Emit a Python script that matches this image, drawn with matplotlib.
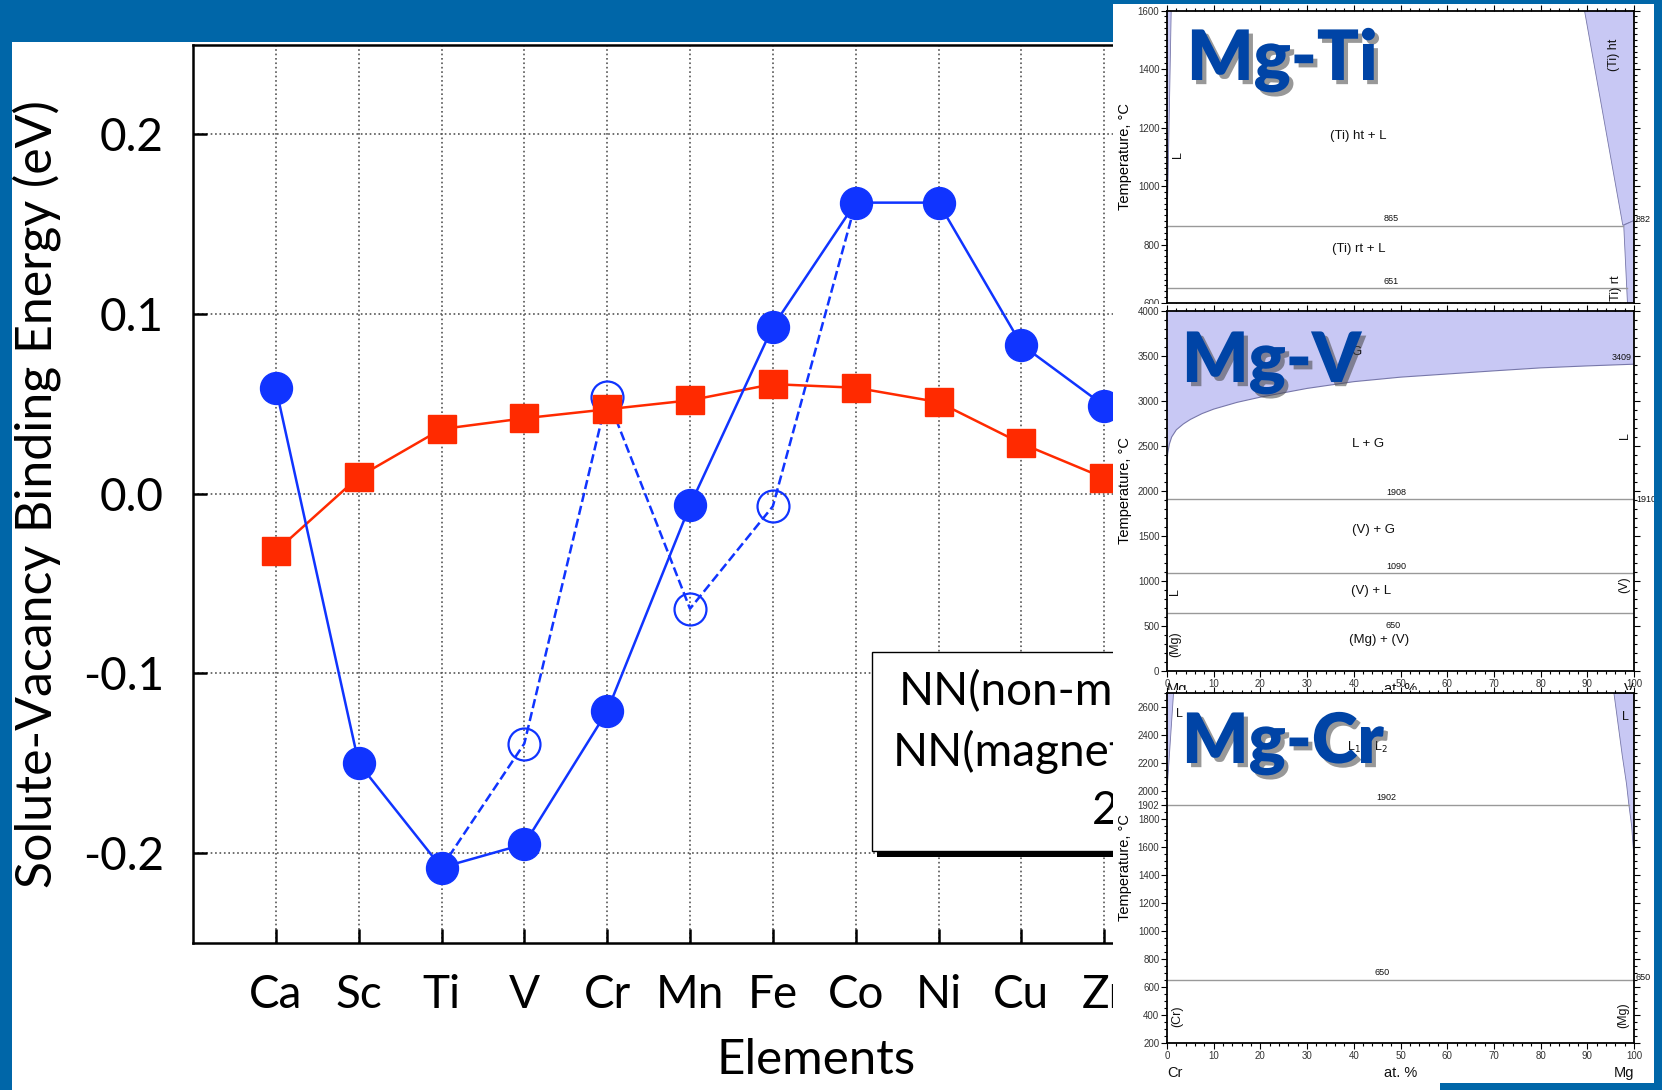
import matplotlib.pyplot as plt
import matplotlib.patheffects as pe
from matplotlib.patches import Rectangle, Polygon
from matplotlib.ticker import MultipleLocator

W, H = 1662, 1090
SLIDE_BLUE = '#0066a8'
MARK_BLUE = '#1034ff'
RED = '#ff2a00'
LAVENDER = '#c8c8f4'
TITLE_BLUE = '#0044a6'

# solute-vacancy binding energies (eV)
elements = ['Ca', 'Sc', 'Ti', 'V', 'Cr', 'Mn', 'Fe', 'Co', 'Ni', 'Cu', 'Zr']
nn_mag = [0.059, -0.150, -0.208, -0.195, -0.121, -0.0065, 0.093, 0.162, 0.162, 0.083, 0.049]
nonmag_elements = ['Ti', 'V', 'Cr', 'Mn', 'Fe', 'Co']
nn_nonmag = [-0.208, -0.139, 0.054, -0.064, -0.007, 0.162]
nn2 = [-0.032, 0.0094, 0.036, 0.042, 0.047, 0.052, 0.061, 0.059, 0.051, 0.028, 0.0088]
yticks = [-0.2, -0.1, 0.0, 0.1, 0.2]
ytick_labels = ['-0.2', '-0.1', '0.0', '0.1', '0.2']
legend_labels = ['NN(non-mag)', 'NN(magnetic)', '2NN']

# Mg-Ti phase diagram (at.% Ti, deg C)
ti_L = [(0, 1600), (0.9, 1600), (0.2, 1000), (0, 880)]
ti_ht = [(89.4, 1600), (100, 1600), (100, 882), (97.6, 866)]
ti_rt = [(97.8, 866), (100, 882), (100, 600), (98.6, 600)]
ti_lines = [(865, 97.7), (651, 98.6)]

# Mg-V phase diagram (at.% V, deg C)
v_gas_x = [0, 0.15, 0.5, 1, 2, 3.5, 5, 7.5, 10, 15, 20, 30, 40, 50, 60, 70, 80, 90, 100]
v_gas_t = [2300, 2420, 2520, 2600, 2680, 2745, 2795, 2860, 2910, 2985, 3043, 3140, 3215, 3265,
           3300, 3335, 3368, 3390, 3409]
v_lines = [1908, 1090, 650]

# Mg-Cr phase diagram (at.% Mg, deg C)
cr_L_left = [(0, 2700), (1.4, 2700), (0.6, 2300), (0, 2000)]
cr_L_right = [(95.7, 2700), (96.5, 2500), (97.5, 2250), (98.4, 2050), (98.9, 1902),
              (99.5, 1750), (100, 1520), (100, 2700)]
cr_lines = [(1902, 98.9), (650, 100)]

plt.rcParams['axes.unicode_minus'] = False


def fig_rect(x0, y0, x1, y1):
    return [x0 / W, 1 - y1 / H, (x1 - x0) / W, (y1 - y0) / H]


def add_box(x0, y0, x1, y1, color, z, **kw):
    fig.add_artist(Rectangle((x0 / W, 1 - y1 / H), (x1 - x0) / W, (y1 - y0) / H,
                             transform=fig.transFigure, facecolor=color, zorder=z, **kw))


fig = plt.figure(figsize=(W / 100, H / 100), dpi=100, facecolor=SLIDE_BLUE)
add_box(12, 42, W, H, 'white', -1, edgecolor='none')

# ---- main chart ----
ax = fig.add_axes(fig_rect(193, 44.5, 1187, 943), zorder=0)
xi = list(range(len(elements)))
xn = [elements.index(e) for e in nonmag_elements]
ax.plot(xn, nn_nonmag, '--', color=MARK_BLUE, lw=1.8, marker='o', ms=23, mfc='none',
        mec=MARK_BLUE, mew=1.6, markevery=[1, 2, 3, 4], zorder=3)
ax.plot(xi, nn2, '-', color=RED, lw=1.8, marker='s', ms=20.5, mec=RED, zorder=4)
ax.plot(xi, nn_mag, '-', color=MARK_BLUE, lw=1.8, marker='o', ms=23, mec=MARK_BLUE, zorder=5)
ax.set_xlim(-1, 11)
ax.set_ylim(-0.25, 0.25)
ax.set_xticks(xi, elements)
ax.set_yticks(yticks, ytick_labels)
ax.grid(True, ls=':', color='#555555', lw=1.2)
ax.tick_params(direction='in', length=10, width=1.8, labelsize=33, top=False, right=False)
ax.tick_params(axis='y', pad=21)
ax.tick_params(axis='x', pad=22)
for lab in ax.get_xticklabels() + ax.get_yticklabels():
    lab.set_family('Lato')
for s in ax.spines.values():
    s.set_linewidth(1.8)

fig.text(816 / W, 1 - 1060 / H, 'Elements', family='Lato', fontsize=35.5, ha='center', va='center')
fig.text(37 / W, 1 - 494 / H, 'Solute-Vacancy Binding Energy (eV)', family='Lato', fontsize=36,
         rotation=90, ha='center', va='center')

# legend box with drop shadow
add_box(877, 657, 1200, 857, 'black', 1, edgecolor='none')
add_box(872, 652, 1195, 851, 'white', 1.5, edgecolor='black', linewidth=1)
for (lx, ly), lab in zip([(899, 691), (893, 752), (1092, 811)], legend_labels):
    fig.text(lx / W, 1 - ly / H, lab, family='Lato', fontsize=33, ha='left', va='center', zorder=2)


# ---- phase diagram panels ----
def phase_axes(frame, ylim, ymaj, ymin, z):
    pa = fig.add_axes(fig_rect(*frame), zorder=z)
    pa.set_facecolor('none')
    pa.set_xlim(0, 100)
    pa.set_ylim(*ylim)
    pa.xaxis.set_major_locator(MultipleLocator(10))
    pa.xaxis.set_minor_locator(MultipleLocator(2))
    pa.yaxis.set_major_locator(MultipleLocator(ymaj))
    pa.yaxis.set_minor_locator(MultipleLocator(ymin))
    pa.tick_params(which='both', direction='out', top=True, right=True, labelsize=7,
                   labelcolor='#333333', pad=1.5, width=0.8)
    pa.tick_params(which='major', length=4)
    pa.tick_params(which='minor', length=2)
    for lab in pa.get_xticklabels() + pa.get_yticklabels():
        lab.set_family('Liberation Sans')
    for s in pa.spines.values():
        s.set_linewidth(1.3)
    pa.set_ylabel('Temperature, °C', family='Liberation Sans', fontsize=10.5, labelpad=4)
    return pa


def put(pa, x, y, s, size=9.5, rot=0, **kw):
    pa.text(x, y, s, fontsize=size, rotation=rot, family='Liberation Sans', color='#111111',
            ha=kw.pop('ha', 'center'), va=kw.pop('va', 'center'), clip_on=False, **kw)


def big_title(pa, x, y, s):
    pa.text(x / W, 1 - y / H, s, transform=fig.transFigure, family='Lato', fontweight='heavy',
            fontsize=50, color=TITLE_BLUE, ha='left', va='baseline',
            path_effects=[pe.withSimplePatchShadow(offset=(3, -3), shadow_rgbFace='#444444', alpha=0.55)])


# Mg-Ti
add_box(1113, 4, 1654, 304, 'white', 5, edgecolor='none')
p1 = phase_axes((1167, 10.6, 1634, 303), (600, 1600), 200, 20, 6)
for poly in (ti_L, ti_ht, ti_rt):
    p1.add_patch(Polygon(poly, closed=True, facecolor=LAVENDER, edgecolor='#7777aa', lw=0.6))
for t, xe in ti_lines:
    p1.plot([0, xe], [t, t], color='#999999', lw=1)
put(p1, 41, 1170, '(Ti) ht + L')
put(p1, 41, 786, '(Ti) rt + L')
put(p1, 48, 872, '865', 6.5, va='bottom')
put(p1, 48, 657, '651', 6.5, va='bottom')
put(p1, 100.4, 887, '882', 6.5, ha='left')
put(p1, 95.7, 1450, '(Ti) ht', 9, rot=90)
put(p1, 96.2, 645, '(Ti) rt', 9, rot=90)
put(p1, 2.3, 1106, 'L', 9, rot=90)
big_title(p1, 1187, 80, 'Mg-Ti')

# Mg-V
add_box(1113, 304, 1654, 690, 'white', 7, edgecolor='none')
p2 = phase_axes((1167, 311, 1634, 671), (0, 4000), 500, 100, 8)
p2.fill_between(v_gas_x, v_gas_t, 4000, facecolor=LAVENDER, edgecolor='none')
p2.plot(v_gas_x, v_gas_t, color='#7777aa', lw=0.8)
for t in v_lines:
    p2.axhline(t, color='#999999', lw=1)
put(p2, 40.5, 3545, 'G')
put(p2, 99.5, 3480, '3409', 6.5, ha='right')
put(p2, 43, 2520, 'L + G')
put(p2, 49, 1930, '1908', 6.5, va='bottom')
put(p2, 100.4, 1900, '1910', 6.5, ha='left')
put(p2, 44.3, 1570, '(V) + G')
put(p2, 49, 1110, '1090', 6.5, va='bottom')
put(p2, 43.6, 890, '(V) + L')
put(p2, 48.5, 560, '650', 6.5, va='top')
put(p2, 45.4, 345, '(Mg) + (V)')
put(p2, 1.7, 880, 'L', 9, rot=90)
put(p2, 1.7, 300, '(Mg)', 9, rot=90)
put(p2, 98, 2620, 'L', 9, rot=90)
put(p2, 98, 955, '(V)', 9, rot=90)
put(p2, 0, -200, 'Mg', 10.5, ha='left')
put(p2, 50, -200, 'at. %', 10.5)
put(p2, 100, -200, 'V', 10.5, ha='right')
big_title(p2, 1182, 382, 'Mg-V')

# Mg-Cr
add_box(1113, 690, 1654, H, 'white', 9, edgecolor='none')
p3 = phase_axes((1167, 693, 1634, 1043), (200, 2700), 200, 50, 10)
p3.set_yticks(list(range(200, 2700, 200)) + [1902])
for lab in p3.get_yticklabels():
    lab.set_family('Liberation Sans')
for poly in (cr_L_left, cr_L_right):
    p3.add_patch(Polygon(poly, closed=True, facecolor=LAVENDER, edgecolor='#7777aa', lw=0.6))
for t, xe in cr_lines:
    p3.plot([0, xe], [t, t], color='#999999', lw=1)
put(p3, 2.6, 2550, 'L', 9)
put(p3, 98.1, 2530, 'L', 9)
put(p3, 43, 2310, 'L$_1$ + L$_2$', 9)
put(p3, 47, 1925, '1902', 6.5, va='bottom')
put(p3, 46, 672, '650', 6.5, va='bottom')
put(p3, 100.4, 665, '650', 6.5, ha='left')
put(p3, 2.3, 392, '(Cr)', 9, rot=90)
put(p3, 97.7, 400, '(Mg)', 9, rot=90)
put(p3, 0, -15, 'Cr', 10.5, ha='left')
put(p3, 50, -15, 'at. %', 10.5)
put(p3, 100, -15, 'Mg', 10.5, ha='right')
big_title(p3, 1182, 763, 'Mg-Cr')

# slide frame strips on the right
add_box(1654, 0, W, H, SLIDE_BLUE, 20, edgecolor='none')
add_box(1440, 1083, W, H, SLIDE_BLUE, 20, edgecolor='none')
add_box(1113, 0, W, 4, SLIDE_BLUE, 20, edgecolor='none')

fig.savefig('out.png', dpi=100, facecolor=SLIDE_BLUE)
